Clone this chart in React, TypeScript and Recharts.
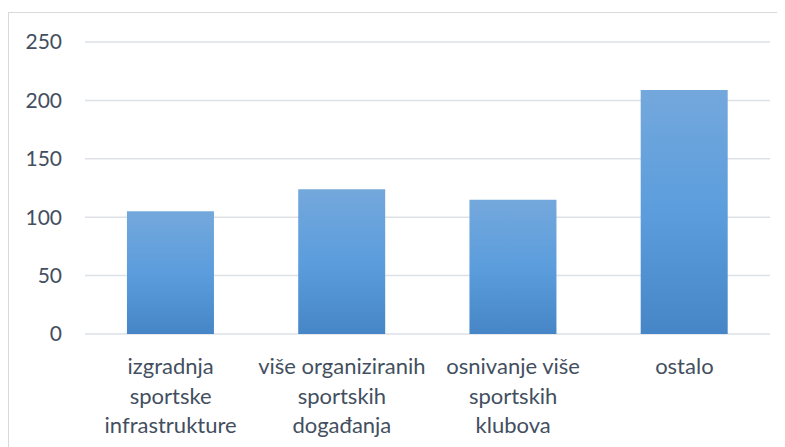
import { BarChart, Bar, XAxis, YAxis, CartesianGrid } from 'recharts';

const categories = [
  'izgradnja sportske infrastrukture',
  'više organiziranih sportskih događanja',
  'osnivanje više sportskih klubova',
  'ostalo',
];
const values = [105, 124, 115, 209];
const tickLabelLines = [
  ['izgradnja', 'sportske', 'infrastrukture'],
  ['više organiziranih', 'sportskih', 'događanja'],
  ['osnivanje više', 'sportskih', 'klubova'],
  ['ostalo'],
];
const yTicks = [0, 50, 100, 150, 200, 250];

const data = categories.map((name, i) => ({ name, value: values[i] }));

const FONT = 'Lato, sans-serif';
const TEXT = '#434f60';

function CategoryTick(props: any) {
  const { x, y, index } = props;
  const lines = tickLabelLines[index] || [];
  return (
    <text x={x} y={y} textAnchor="middle" fill={TEXT} fontSize={22} fontFamily={FONT}>
      {lines.map((line, i) => (
        <tspan key={i} x={x} dy={i === 0 ? 40 : 29.5}>
          {line}
        </tspan>
      ))}
    </text>
  );
}

export default function App() {
  return (
    <div
      style={{
        marginTop: 4,
        width: 777,
        height: 435,
        borderLeft: '1px solid #d9d9d9',
        borderTop: '1px solid #d9d9d9',
        background: '#fff',
        overflow: 'hidden',
      }}
    >
      <BarChart
        width={776}
        height={434}
        data={data}
        margin={{ top: 29, right: 15, bottom: 0, left: 0 }}
        barCategoryGap="24.5%"
      >
        <defs>
          <linearGradient id="barFill" x1="0" y1="0" x2="0" y2="1">
            <stop offset="0%" stopColor="#74a8dc" />
            <stop offset="50%" stopColor="#5b9ddd" />
            <stop offset="100%" stopColor="#4686c7" />
          </linearGradient>
        </defs>
        <CartesianGrid vertical={false} stroke="#dde1e6" strokeWidth={1.5} />
        <XAxis
          dataKey="name"
          interval={0}
          tickLine={false}
          axisLine={false}
          tickSize={0}
          tickMargin={0}
          height={113}
          tick={<CategoryTick />}
        />
        <YAxis
          domain={[0, 250]}
          ticks={yTicks}
          tickLine={false}
          axisLine={false}
          tickSize={0}
          tickMargin={23}
          width={76}
          tick={{ fill: TEXT, fontSize: 21, fontFamily: FONT }}
        />
        <Bar dataKey="value" fill="url(#barFill)" isAnimationActive={false} />
      </BarChart>
    </div>
  );
}
